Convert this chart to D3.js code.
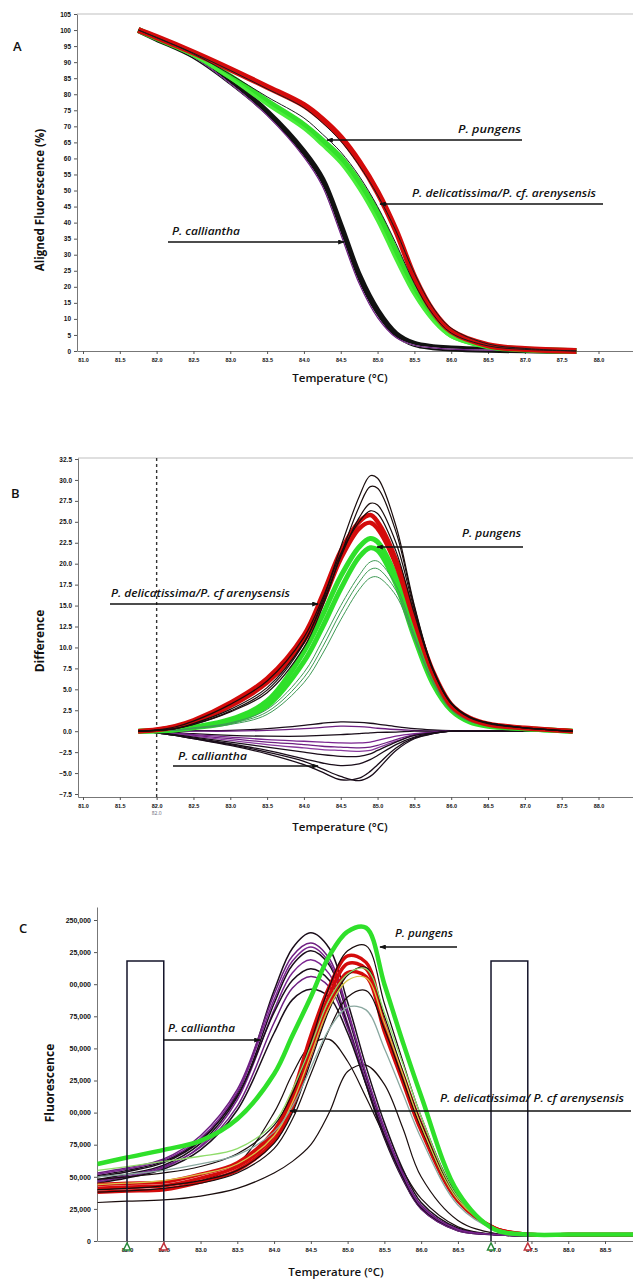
<!DOCTYPE html>
<html>
<head>
<meta charset="utf-8">
<script src="https://cdn.jsdelivr.net/npm/d3@7/dist/d3.min.js"></script>
<style>
  body { margin: 0; background: #fff; }
  text { font-family: "Open Sans", "DejaVu Sans", sans-serif; }
  .tick text { font-family: "Liberation Sans Narrow", "Liberation Sans", sans-serif; font-weight: bold; fill: #111; }
  .domain { stroke: #777; }
  .tick line { stroke: #555; }
</style>
</head>
<body>
<div id="chart"></div>
<script>
// ---------- panel A : aligned fluorescence (%)
var tempA = [81.75, 82.0, 82.5, 83.0, 83.5, 84.0, 84.25, 84.5, 84.75, 85.0, 85.25, 85.5, 85.75, 86.0, 86.5, 87.0, 87.7];
var aCalliantha = [100, 97.3, 92, 84, 74.5, 62, 53.5, 39, 23.5, 12.5, 5.3, 2.2, 1.2, 0.8, 0.4, 0.2, 0];
var aCallianthaPurple = [100, 97.1, 91.6, 83.3, 73.4, 60.4, 51.4, 36.4, 21, 10.4, 4.2, 1.8, 1.0, 0.6, 0.3, 0.1, 0];
var aPungens = [100, 97.5, 92.5, 85.5, 77.8, 70.4, 65.6, 60.2, 52.5, 43, 31, 19, 10.5, 5, 1.5, 0.5, 0];
var aPungensLow = [100, 97.4, 92.2, 85, 76.8, 69.2, 64.1, 58.5, 50.5, 40.5, 28.5, 17.5, 9.5, 4.5, 1.3, 0.4, 0];
var aDelicatissima = [100, 97.8, 93, 87.8, 82.3, 76.6, 72.2, 66.6, 59, 49.5, 37.5, 23, 12.5, 6.2, 1.8, 0.6, 0];
var aBlackLines = [
  [100, 97.7, 92.8, 87.4, 81.7, 75.8, 71.1, 65.4, 57.8, 48.6, 37.4, 24.2, 13.6, 7.1, 2.2, 0.8, 0],
  [100, 97.6, 92.6, 86.2, 79.2, 72.6, 67.6, 62, 54.5, 45, 33.5, 21, 11.5, 5.6, 1.6, 0.5, 0]
];
var xTicks = [81, 81.5, 82, 82.5, 83, 83.5, 84, 84.5, 85, 85.5, 86, 86.5, 87, 87.5, 88];
var xLabels = ["81.0", "81.5", "82.0", "82.5", "83.0", "83.5", "84.0", "84.5", "85.0", "85.5", "86.0", "86.5", "87.0", "87.5", "88.0"];
var yTicksA = [0, 5, 10, 15, 20, 25, 30, 35, 40, 45, 50, 55, 60, 65, 70, 75, 80, 85, 90, 95, 100, 105];

// ---------- panel B : difference plot
var tempB = [81.75, 82.0, 82.25, 82.5, 83.0, 83.5, 84.0, 84.25, 84.5, 84.75, 84.9, 85.0, 85.25, 85.5, 85.75, 86.0, 86.25, 86.5, 87.0, 87.65];
var bDelicatissima = [
  [0, 0.2, 0.6, 1.3, 3.4, 6.3, 11.5, 16.2, 21.5, 25.0, 25.8, 25.0, 20.5, 13.5, 7.2, 3.2, 1.6, 0.9, 0.4, 0],
  [0, 0.15, 0.5, 1.1, 3.0, 5.8, 10.8, 15.3, 20.6, 24.2, 24.9, 24.2, 19.9, 13.1, 6.9, 3.0, 1.5, 0.8, 0.35, 0]
];
var bPungens = [
  [0, 0.05, 0.2, 0.5, 1.4, 3.6, 9.5, 13.8, 18.5, 22.0, 23.0, 22.6, 18.5, 11.8, 6.0, 2.6, 1.2, 0.7, 0.3, 0],
  [0, 0.05, 0.15, 0.4, 1.1, 3.0, 8.3, 12.4, 17.0, 20.8, 21.9, 21.6, 17.6, 11.2, 5.7, 2.5, 1.1, 0.6, 0.3, 0]
];
var bTallBlack = [
  [0, 0.1, 0.3, 0.8, 2.4, 4.9, 10.5, 15.5, 22, 28, 30.5, 30.2, 24.5, 15, 7.5, 3.4, 1.7, 1.0, 0.4, 0],
  [0, 0.1, 0.3, 0.8, 2.3, 4.6, 10, 14.8, 21, 26.8, 29.2, 29.0, 23.8, 14.8, 7.4, 3.3, 1.7, 1.0, 0.4, 0],
  [0, 0.1, 0.3, 0.9, 2.6, 5.2, 10.6, 15.2, 20.8, 25.5, 27.2, 27.0, 22.5, 14.5, 7.3, 3.3, 1.7, 1.0, 0.4, 0],
  [0, 0.15, 0.5, 1.2, 3.2, 6.0, 11.2, 15.8, 21.2, 25.0, 26.3, 26.0, 21.5, 14.0, 7.4, 3.3, 1.6, 0.9, 0.4, 0]
];
var bThinGreen = [
  [0, 0.05, 0.15, 0.4, 1.0, 2.6, 7.0, 10.8, 15, 18.6, 20.2, 20.3, 17.4, 11.5, 6.0, 2.6, 1.2, 0.7, 0.3, 0],
  [0, 0.05, 0.1, 0.35, 0.9, 2.3, 6.4, 10.0, 14.2, 17.8, 19.3, 19.4, 16.8, 11.2, 5.9, 2.6, 1.2, 0.7, 0.3, 0],
  [0, 0.05, 0.1, 0.3, 0.8, 2.0, 5.8, 9.2, 13.3, 16.9, 18.3, 18.4, 16.2, 11.0, 5.8, 2.5, 1.2, 0.7, 0.3, 0]
];
var bCalliantha = [
  [0, 0, 0, 0.05, 0.1, 0.3, 0.7, 0.95, 1.1, 1.05, 0.95, 0.85, 0.55, 0.3, 0.15, 0.05, 0, 0, 0, 0],
  [0, 0, 0, 0, 0, 0.1, 0.3, 0.45, 0.6, 0.55, 0.45, 0.35, 0.2, 0.1, 0, 0, 0, 0, 0, 0],
  [0, -0.05, -0.15, -0.3, -0.5, -0.6, -0.6, -0.5, -0.4, -0.3, -0.2, -0.15, -0.1, 0, 0, 0, 0, 0, 0, 0],
  [0, -0.1, -0.25, -0.4, -0.7, -1.0, -1.2, -1.3, -1.4, -1.4, -1.3, -1.1, -0.6, -0.3, -0.1, 0, 0, 0, 0, 0],
  [0, -0.1, -0.3, -0.5, -0.9, -1.3, -1.6, -1.8, -1.9, -2.0, -1.9, -1.7, -1.0, -0.4, -0.15, 0, 0, 0, 0, 0],
  [0, -0.15, -0.35, -0.6, -1.1, -1.6, -2.0, -2.2, -2.3, -2.4, -2.3, -2.0, -1.2, -0.5, -0.2, 0, 0, 0, 0, 0],
  [0, -0.15, -0.4, -0.7, -1.3, -1.9, -2.5, -2.8, -3.0, -3.0, -2.7, -2.3, -1.3, -0.5, -0.2, 0, 0, 0, 0, 0],
  [0, -0.2, -0.5, -0.8, -1.5, -2.3, -3.3, -3.8, -4.1, -3.9, -3.4, -2.9, -1.6, -0.7, -0.25, 0, 0, 0, 0, 0],
  [0, -0.2, -0.5, -0.9, -1.7, -2.7, -4.0, -4.9, -5.8, -5.6, -4.8, -4.0, -2.0, -0.8, -0.3, 0, 0, 0, 0, 0],
  [0, -0.2, -0.5, -0.9, -1.6, -2.5, -3.6, -4.5, -5.4, -5.9, -5.4, -4.6, -2.3, -0.9, -0.3, 0, 0, 0, 0, 0]
];
var bCallianthaColors = ["#1a0d1a", "#6e1f82", "#1a0d1a", "#7a2590", "#6e1f82", "#8a3a9e", "#1a0d1a", "#1a0d1a", "#1a0d1a", "#1a0d1a"];
var yTicksB = [-7.5, -5, -2.5, 0, 2.5, 5, 7.5, 10, 12.5, 15, 17.5, 20, 22.5, 25, 27.5, 30, 32.5];

// ---------- panel C : raw fluorescence (thousands)
var tempC = [81.6, 82.0, 82.5, 83.0, 83.5, 84.0, 84.25, 84.5, 84.75, 85.0, 85.25, 85.5, 85.75, 86.0, 86.5, 87.0, 87.5, 88.0, 88.5, 88.9];
var cCalliantha = [
  [50, 54, 61, 78, 115, 195, 228, 240, 228, 186, 136, 92, 56, 30, 10, 5, 4, 4, 4, 4],
  [53, 57, 64, 82, 118, 192, 222, 232, 220, 180, 130, 88, 53, 28, 9, 5, 4, 4, 4, 4],
  [48, 52, 59, 76, 112, 185, 215, 226, 215, 176, 128, 86, 52, 27, 9, 5, 4, 4, 4, 4],
  [46, 50, 57, 74, 110, 180, 209, 219, 208, 170, 124, 83, 50, 26, 9, 5, 4, 4, 4, 4],
  [51, 55, 62, 79, 113, 178, 203, 212, 203, 168, 122, 80, 48, 25, 8, 5, 4, 4, 4, 4],
  [47, 51, 58, 73, 105, 170, 197, 206, 198, 166, 124, 82, 49, 25, 8, 5, 4, 4, 4, 4],
  [45, 49, 56, 71, 102, 162, 188, 196, 190, 162, 122, 82, 50, 26, 9, 5, 4, 4, 4, 4],
  [52, 56, 63, 80, 116, 188, 218, 229, 217, 178, 130, 87, 52, 27, 9, 5, 4, 4, 4, 4]
];
var cCallianthaColors = ["#1a0d1a", "#6e1f82", "#1a0d1a", "#7a2590", "#1a0d1a", "#6e1f82", "#1a0d1a", "#7a2590"];
var cLowBlack = [
  [40, 41, 43, 47, 60, 100, 130, 153, 157, 140, 112, 82, 55, 33, 11, 5, 5, 5, 5, 5],
  [30, 31, 32, 35, 41, 53, 62, 75, 100, 132, 137, 122, 88, 50, 16, 6, 5, 5, 5, 5]
];
var cDelicatissima = [
  [44, 45, 46, 52, 61, 86, 115, 160, 198, 222, 217, 169, 130, 91, 33, 10, 5, 5, 5, 5],
  [41, 42, 43, 49, 58, 82, 110, 153, 191, 216, 212, 166, 127, 88, 32, 10, 5, 5, 5, 5],
  [38, 39, 40, 46, 55, 78, 104, 146, 184, 209, 206, 163, 124, 86, 31, 10, 5, 5, 5, 5]
];
var cBlack = [
  [48, 50, 53, 58, 68, 90, 115, 155, 198, 226, 230, 185, 140, 97, 35, 10, 5, 5, 5, 5],
  [40, 41, 43, 47, 55, 76, 100, 140, 180, 207, 213, 175, 132, 92, 33, 10, 5, 5, 5, 5],
  [38, 39, 41, 45, 53, 72, 95, 130, 165, 190, 195, 165, 126, 88, 32, 10, 5, 5, 5, 5]
];
var cPungens = [60, 65, 71, 78, 95, 130, 160, 190, 222, 241, 244, 200, 155, 113, 38, 9, 5, 5, 5, 5];
var cThin = [
  [55, 58, 62, 66, 72, 92, 118, 152, 188, 208, 212, 178, 138, 97, 34, 10, 5, 5, 5, 5],
  [44, 45, 47, 52, 60, 82, 108, 145, 182, 203, 205, 170, 130, 90, 32, 10, 5, 5, 5, 5],
  [50, 52, 55, 60, 67, 85, 105, 135, 165, 182, 180, 150, 115, 80, 28, 9, 5, 5, 5, 5]
];
var cThinColors = ["#8fdc6a", "#d8c44a", "#8aa8a0"];
var xTicksC = [82, 82.5, 83, 83.5, 84, 84.5, 85, 85.5, 86, 86.5, 87, 87.5, 88, 88.5];
var xLabelsC = ["82.0", "82.5", "83.0", "83.5", "84.0", "84.5", "85.0", "85.5", "86.0", "86.5", "87.0", "87.5", "88.0", "88.5"];
var yTicksC = [0, 25, 50, 75, 100, 125, 150, 175, 200, 225, 250];
var yLabelsC = ["0", "25,000", "50,000", "75,000", "00,000", "25,000", "50,000", "75,000", "00,000", "25,000", "250,000"];
var cWindowLeft = [82.0, 82.5];
var cWindowRight = [86.95, 87.45];
var cWindowTop = 218;

var svg = d3.select("#chart").append("svg")
    .attr("width", 633)
    .attr("height", 1282);

var defs = svg.append("defs");
defs.append("marker")
    .attr("id", "arrow")
    .attr("viewBox", "0 0 8 6")
    .attr("refX", 7).attr("refY", 3)
    .attr("markerWidth", 7).attr("markerHeight", 5)
    .attr("markerUnits", "userSpaceOnUse")
    .attr("orient", "auto")
  .append("path")
    .attr("d", "M0,0L8,3L0,6Z")
    .attr("fill", "#111");

function lineGen(x, y, temps) {
  return d3.line()
      .x(function(d, i) { return x(temps[i]); })
      .y(function(d) { return y(d); })
      .curve(d3.curveCatmullRom.alpha(0.5));
}

function drawSeries(g, gen, series, color, width) {
  g.append("g").selectAll("path")
      .data(series)
    .enter().append("path")
      .attr("d", gen)
      .attr("fill", "none")
      .attr("stroke", color)
      .attr("stroke-width", width)
      .attr("stroke-linejoin", "round");
}

function axisScale(s, lo, hi) {
  return s.copy().domain([s.invert(lo), s.invert(hi)]).range([lo, hi]);
}

function label(txt, x, y, len, size) {
  svg.append("text")
      .attr("x", x).attr("y", y)
      .attr("font-size", size || 11)
      .attr("font-style", "italic")
      .attr("font-weight", 600)
      .attr("textLength", len)
      .attr("lengthAdjust", "spacingAndGlyphs")
      .attr("fill", "#111")
      .text(txt);
}

function arrow(x1, y1, x2, y2) {
  svg.append("line")
      .attr("x1", x1).attr("y1", y1).attr("x2", x2).attr("y2", y2)
      .attr("stroke", "#111").attr("stroke-width", 1.3)
      .attr("marker-end", "url(#arrow)");
}

function title(txt, x, y, size) {
  svg.append("text")
      .attr("x", x).attr("y", y)
      .attr("text-anchor", "middle")
      .attr("font-size", size)
      .attr("font-weight", 600)
      .attr("fill", "#111")
      .text(txt);
}

function ytitle(txt, x, y, size) {
  svg.append("text")
      .attr("transform", "translate(" + x + "," + y + ") rotate(-90)")
      .attr("text-anchor", "middle")
      .attr("font-size", size)
      .attr("font-weight", "bold")
      .attr("fill", "#111")
      .text(txt);
}

function letter(txt, x, y) {
  svg.append("text").attr("x", x).attr("y", y)
      .attr("font-size", 13).attr("font-weight", 600).attr("fill", "#111")
      .text(txt);
}

// ================= PANEL A =================
var xA = d3.scaleLinear().domain([81, 88]).range([83, 598.5]);
var yA = d3.scaleLinear().domain([0, 105]).range([351, 14]);

svg.append("line").attr("x1", 77).attr("x2", 633).attr("y1", yA(105)).attr("y2", yA(105))
    .attr("stroke", "#d4d4d4").attr("stroke-width", 1.5);

svg.append("g")
    .attr("transform", "translate(0," + yA(0) + ")")
    .call(d3.axisBottom(axisScale(xA, 77, 633)).tickValues(xTicks)
      .tickFormat(function(d, i) { return xLabels[i]; }).tickSize(3).tickSizeOuter(0))
    .call(function(g) { g.selectAll("text").attr("font-size", 5.5).attr("dy", "0.9em"); });

svg.append("g")
    .attr("transform", "translate(77,0)")
    .call(d3.axisLeft(yA).tickValues(yTicksA).tickSize(3).tickSizeOuter(0))
    .call(function(g) { g.selectAll("text").attr("font-size", 6.5); });

var gA = svg.append("g");
var genA = lineGen(xA, yA, tempA);
drawSeries(gA, genA, [aCalliantha], "#111", 6);
drawSeries(gA, genA, [aCallianthaPurple], "#fff", 1);
drawSeries(gA, genA, [aCallianthaPurple], "#6e1f82", 1.2);
drawSeries(gA, genA, [aPungens], "#33e02a", 6);
drawSeries(gA, genA, [aPungensLow], "#49ee3a", 3);
drawSeries(gA, genA, [aDelicatissima], "#d40b0b", 6);
drawSeries(gA, genA, aBlackLines, "#1a1a1a", 1);

label("P. pungens", 458, 133, 63);
arrow(522, 140, 327, 140);
label("P. delicatissima/P. cf. arenysensis", 412, 197, 184);
arrow(603, 204, 380, 204);
label("P. calliantha", 172, 235, 68);
arrow(168, 242, 344, 242);

title("Temperature (°C)", 340, 382, 11.5);
ytitle("Aligned Fluorescence (%)", 44, 200, 11.5);
letter("A", 13, 51);

// ================= PANEL B =================
var xB = xA.copy();
var yB = d3.scaleLinear().domain([-7.5, 32.5]).range([794, 459]);

svg.append("line").attr("x1", 78).attr("x2", 633).attr("y1", 458).attr("y2", 458)
    .attr("stroke", "#d4d4d4").attr("stroke-width", 1.5);

svg.append("g")
    .attr("transform", "translate(0,797)")
    .call(d3.axisBottom(axisScale(xB, 78, 633)).tickValues(xTicks)
      .tickFormat(function(d, i) { return xLabels[i]; }).tickSize(3).tickSizeOuter(0))
    .call(function(g) { g.selectAll("text").attr("font-size", 5.5).attr("dy", "0.9em"); });

svg.append("g")
    .attr("transform", "translate(78,0)")
    .call(d3.axisLeft(axisScale(yB, 797, 458)).tickValues(yTicksB)
      .tickFormat(d3.format(".1f")).tickSize(3).tickSizeOuter(0))
    .call(function(g) { g.selectAll("text").attr("font-size", 6.5); });

// temperature marker line
svg.append("line")
    .attr("x1", xB(82)).attr("x2", xB(82)).attr("y1", 458).attr("y2", 797)
    .attr("stroke", "#333").attr("stroke-width", 1.4).attr("stroke-dasharray", "3,3");
svg.append("text").attr("x", xB(82)).attr("y", 815).attr("text-anchor", "middle")
    .attr("font-size", 5).attr("fill", "#667").text("82.0");

var gB = svg.append("g");
var genB = lineGen(xB, yB, tempB);
drawSeries(gB, genB, bCalliantha.slice(0, 8), function(d, i) { return bCallianthaColors[i]; }, 1.3);
drawSeries(gB, genB, bCalliantha.slice(8), "#1a0d1a", 1.3);
drawSeries(gB, genB, bPungens, "#2fe02a", 5);
drawSeries(gB, genB, bThinGreen, "#3f9a55", 1);
drawSeries(gB, genB, bDelicatissima, "#d40b0b", 4.5);
drawSeries(gB, genB, bTallBlack, "#1a0d0d", 1.2);

label("P. delicatissima/P. cf arenysensis", 111, 597, 179);
arrow(110, 604, 318, 604);
label("P. pungens", 462, 537, 59);
arrow(523, 547, 377, 547);
label("P. calliantha", 178, 760, 69);
arrow(173, 766, 318, 766);

title("Temperature (°C)", 340, 831, 11.5);
ytitle("Difference", 44, 641, 12);
letter("B", 11, 498);

// ================= PANEL C =================
var xC = d3.scaleLinear().domain([82, 88.5]).range([127, 605]);
var yC = d3.scaleLinear().domain([0, 250]).range([1241, 920]);

svg.append("g")
    .attr("transform", "translate(0,1241)")
    .call(d3.axisBottom(axisScale(xC, 97, 633)).tickValues(xTicksC)
      .tickFormat(function(d, i) { return xLabelsC[i]; }).tickSize(3).tickSizeOuter(0))
    .call(function(g) { g.selectAll("text").attr("font-size", 6).attr("dy", "0.9em"); });

svg.append("g")
    .attr("transform", "translate(97,0)")
    .call(d3.axisLeft(axisScale(yC, 1241, 907)).tickValues(yTicksC)
      .tickFormat(function(d, i) { return yLabelsC[i]; }).tickSize(3).tickSizeOuter(0))
    .call(function(g) { g.selectAll("text").attr("font-size", 7); });

var gC = svg.append("g");
var genC = lineGen(xC, yC, tempC);
drawSeries(gC, genC, cLowBlack, "#1a0d0d", 1.2);
drawSeries(gC, genC, cCalliantha, function(d, i) { return cCallianthaColors[i]; }, 1.5);
drawSeries(gC, genC, cDelicatissima, "#d40b0b", 3.5);
drawSeries(gC, genC, cBlack, "#1a0d0d", 1.2);
drawSeries(gC, genC, cThin, function(d, i) { return cThinColors[i]; }, 1.3);
drawSeries(gC, genC, [cPungens], "#2fe02a", 4.5);

// integration windows
[cWindowLeft, cWindowRight].forEach(function(w) {
  svg.append("path")
      .attr("d", "M" + xC(w[0]) + "," + yC(0) + "V" + yC(cWindowTop) + "H" + xC(w[1]) + "V" + yC(0))
      .attr("fill", "none").attr("stroke", "#14142a").attr("stroke-width", 1.5);
  [[w[0], "#2a8a3a"], [w[1], "#c0303a"]].forEach(function(m) {
    svg.append("path")
        .attr("d", "M" + (xC(m[0]) - 3.5) + "," + (yC(0) + 9) + "L" + xC(m[0]) + "," + (yC(0) + 2) + "L" + (xC(m[0]) + 3.5) + "," + (yC(0) + 9) + "Z")
        .attr("fill", "#fff").attr("stroke", m[1]).attr("stroke-width", 1.5);
  });
});

label("P. pungens", 395, 937, 58);
arrow(457, 947, 380, 947);
label("P. calliantha", 168, 1032, 67);
arrow(164, 1040, 260, 1040);
label("P. delicatissima/ P. cf arenysensis", 440, 1102, 184);
arrow(631, 1111, 290, 1111);

title("Temperature (°C)", 336, 1276, 11.5);
ytitle("Fluorescence", 54, 1083, 12);
letter("C", 19, 933);
</script>
</body>
</html>
